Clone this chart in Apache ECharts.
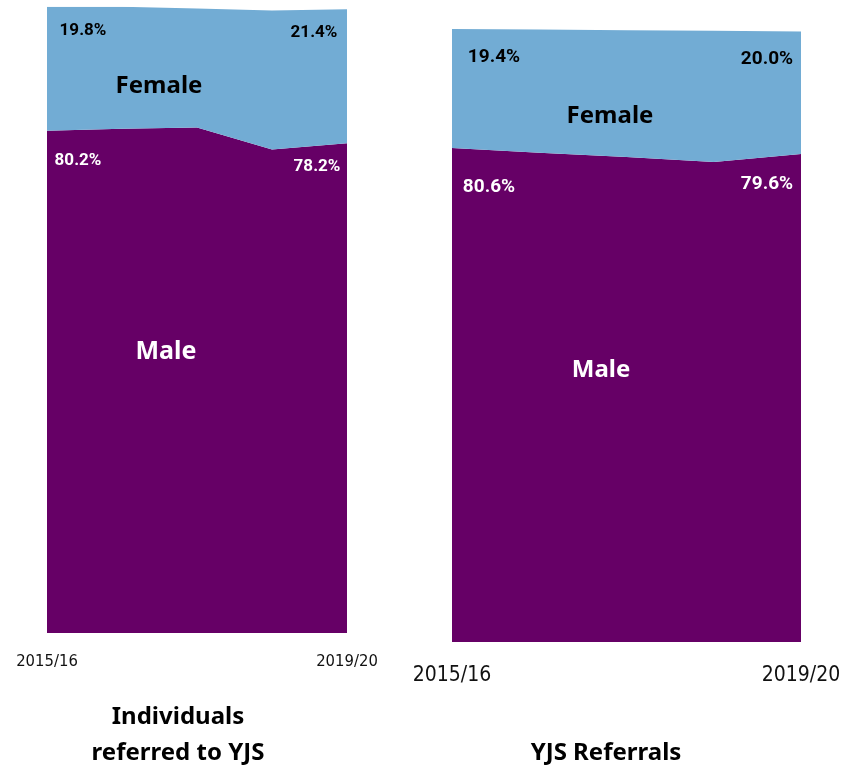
<!DOCTYPE html>
<html>
<head>
<meta charset="utf-8">
<script src="https://cdn.jsdelivr.net/npm/echarts@6/dist/echarts.min.js"></script>
<style>
  html, body { margin: 0; padding: 0; background: #ffffff; }
  #chart { width: 856px; height: 766px; }
</style>
</head>
<body>
<div id="chart"></div>
<script>
// Financial years on the x axis
const years = ['2015/16', '2016/17', '2017/18', '2018/19', '2019/20'];

// Individuals referred to YJS: share by gender (%)
const individualsMale = [80.2, 80.5, 80.7, 77.2, 78.2];
const individualsFemale = [19.8, 19.5, 19.0, 22.2, 21.4];

// YJS referrals: share by gender (%)
const referralsMale = [80.6, 79.8, 79.1, 78.3, 79.6];
const referralsFemale = [19.4, 20.1, 20.7, 21.4, 20.0];

const panelTitles = ['Individuals\nreferred to YJS', 'YJS Referrals'];
const seriesNames = ['Male', 'Female'];

const MALE_COLOR = '#660066';
const FEMALE_COLOR = '#72acd4';
const CONDENSED = '"DejaVu Sans Condensed", "DejaVu Sans", sans-serif';
const LABEL_FONT = 'Roboto, "Noto Sans", sans-serif';
const SANS = '"Noto Sans", "Open Sans", sans-serif';

// Offsets of the end-point value labels, keyed by data index
const labelOffsets = {
  indMale: { 0: [31, 30], 4: [-30, 24] },
  indFemale: { 0: [36, 24], 4: [-33, 24] },
  refMale: { 0: [37, 39], 4: [-34, 30] },
  refFemale: { 0: [42, 28], 4: [-34, 28] }
};

function areaSeries(name, values, stack, axisIndex, color, offsets, labelColor, fontSize) {
  return {
    name: name,
    type: 'line',
    stack: stack,
    xAxisIndex: axisIndex,
    yAxisIndex: axisIndex,
    symbol: 'circle',
    symbolSize: 0,
    showSymbol: true,
    silent: true,
    animation: false,
    lineStyle: { width: 0 },
    itemStyle: { color: color },
    areaStyle: { color: color, opacity: 1 },
    label: {
      show: false,
      position: 'inside',
      align: 'center',
      verticalAlign: 'middle',
      fontFamily: LABEL_FONT,
      fontWeight: 'bold',
      fontSize: fontSize,
      color: labelColor,
      formatter: function (p) { return p.value.toFixed(1) + '%'; }
    },
    data: values.map(function (v, i) {
      const off = offsets[i];
      return off ? { value: v, label: { show: true, offset: off } } : { value: v };
    })
  };
}

function xAxisFor(gridIndex, fontSize, margin) {
  return {
    type: 'category',
    gridIndex: gridIndex,
    data: years,
    boundaryGap: false,
    axisLine: { show: false },
    axisTick: { show: false },
    splitLine: { show: false },
    axisLabel: {
      interval: 0,
      margin: margin,
      fontFamily: CONDENSED,
      fontSize: fontSize,
      color: '#111111',
      formatter: function (v, i) { return (i === 0 || i === years.length - 1) ? v : ''; }
    }
  };
}

function yAxisFor(gridIndex) {
  return {
    type: 'value',
    gridIndex: gridIndex,
    min: 0,
    max: 100,
    show: false
  };
}

function caption(x, y, text, color, size, extra) {
  return Object.assign({
    type: 'text', x: x, y: y, z: 100, silent: true,
    style: { text: text, fill: color, font: 'bold ' + size + 'px ' + SANS, align: 'center', verticalAlign: 'middle' }
  }, extra || {});
}

const chart = echarts.init(document.getElementById('chart'), null, { renderer: 'canvas' });

chart.setOption({
  animation: false,
  backgroundColor: '#ffffff',
  grid: [
    { left: 47, width: 300, top: 6.7, bottom: 133 },
    { left: 452, width: 349, top: 29, bottom: 124 }
  ],
  xAxis: [xAxisFor(0, 16.5, 20), xAxisFor(1, 21, 23)],
  yAxis: [yAxisFor(0), yAxisFor(1)],
  series: [
    areaSeries(seriesNames[0], individualsMale, 'ind', 0, MALE_COLOR, labelOffsets.indMale, '#ffffff', 17),
    areaSeries(seriesNames[1], individualsFemale, 'ind', 0, FEMALE_COLOR, labelOffsets.indFemale, '#000000', 17),
    areaSeries(seriesNames[0], referralsMale, 'ref', 1, MALE_COLOR, labelOffsets.refMale, '#ffffff', 19),
    areaSeries(seriesNames[1], referralsFemale, 'ref', 1, FEMALE_COLOR, labelOffsets.refFemale, '#000000', 19)
  ],
  graphic: [
    // Series names inside the areas
    caption(159, 86, seriesNames[1], '#000000', 24),
    caption(166, 352, seriesNames[0], '#ffffff', 25),
    caption(610, 116, seriesNames[1], '#000000', 24),
    caption(601, 370, seriesNames[0], '#ffffff', 24),
    // Panel captions
    {
      type: 'text', x: 178, y: 699.5, z: 100, silent: true,
      style: { text: panelTitles[0], fill: '#000000', font: 'bold 24px ' + SANS, lineHeight: 36, align: 'center', verticalAlign: 'top' }
    },
    caption(606, 753, panelTitles[1], '#000000', 24)
  ]
});
</script>
</body>
</html>
